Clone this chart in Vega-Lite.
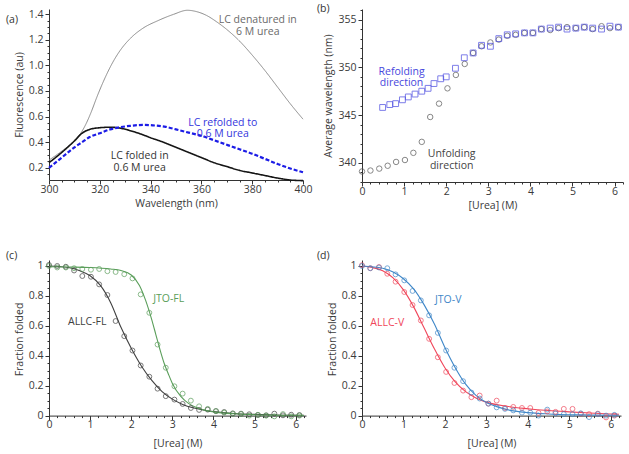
{
  "$schema": "https://vega.github.io/schema/vega-lite/v6.json",
  "padding": {"left": 6, "top": 4, "right": 0, "bottom": 0},
  "columns": 2,
  "spacing": {"row": 78, "column": 56},
  "bounds": "flush",
  "resolve": {"scale": {"color": "independent", "shape": "independent", "size": "independent", "strokeWidth": "independent", "strokeDash": "independent"}},
  "config": {
    "font": "Open Sans",
    "view": {"stroke": null},
    "axis": {"grid": false, "domainColor": "#333333", "tickColor": "#333333", "labelColor": "#3a3a3a", "titleColor": "#3a3a3a", "labelFontSize": 10.5, "titleFontSize": 10.5, "titleFontWeight": "normal", "labelPadding": 2, "titlePadding": 4, "labelFont": "Open Sans", "titleFont": "Open Sans", "labelOverlap": false, "labelFlush": false},
    "axisX": {"labelPadding": 0},
    "title": {"fontSize": 10.5, "fontWeight": "normal", "color": "#333333", "anchor": "start", "font": "Open Sans"},
    "text": {"font": "Open Sans", "fontSize": 10.5, "lineBreak": "\n", "lineHeight": 11.5}
  },
  "datasets": {
    "spec": [
      {"wl": 300, "v": 0.26, "s": "den"}, {"wl": 305, "v": 0.33, "s": "den"}, {"wl": 310, "v": 0.41, "s": "den"}, {"wl": 312.5, "v": 0.47, "s": "den"}, {"wl": 314.5, "v": 0.54, "s": "den"}, {"wl": 316.5, "v": 0.63, "s": "den"}, {"wl": 319, "v": 0.76, "s": "den"}, {"wl": 322, "v": 0.9, "s": "den"}, {"wl": 325, "v": 1.02, "s": "den"}, {"wl": 328, "v": 1.116, "s": "den"}, {"wl": 332, "v": 1.21, "s": "den"}, {"wl": 337, "v": 1.29, "s": "den"}, {"wl": 343, "v": 1.35, "s": "den"}, {"wl": 349, "v": 1.398, "s": "den"}, {"wl": 354.5, "v": 1.43, "s": "den"}, {"wl": 358, "v": 1.42, "s": "den"}, {"wl": 362, "v": 1.39, "s": "den"}, {"wl": 366, "v": 1.34, "s": "den"}, {"wl": 370, "v": 1.28, "s": "den"}, {"wl": 375, "v": 1.19, "s": "den"}, {"wl": 380, "v": 1.08, "s": "den"}, {"wl": 385, "v": 0.96, "s": "den"}, {"wl": 390, "v": 0.83, "s": "den"}, {"wl": 395, "v": 0.7, "s": "den"}, {"wl": 400, "v": 0.58, "s": "den"},
      {"wl": 300, "v": 0.24, "s": "fold"}, {"wl": 305, "v": 0.32, "s": "fold"}, {"wl": 310, "v": 0.41, "s": "fold"}, {"wl": 313, "v": 0.47, "s": "fold"}, {"wl": 316, "v": 0.5, "s": "fold"}, {"wl": 320, "v": 0.513, "s": "fold"}, {"wl": 324, "v": 0.517, "s": "fold"}, {"wl": 328, "v": 0.51, "s": "fold"}, {"wl": 332, "v": 0.49, "s": "fold"}, {"wl": 336, "v": 0.465, "s": "fold"}, {"wl": 340, "v": 0.435, "s": "fold"}, {"wl": 345, "v": 0.4, "s": "fold"}, {"wl": 350, "v": 0.36, "s": "fold"}, {"wl": 355, "v": 0.32, "s": "fold"}, {"wl": 360, "v": 0.28, "s": "fold"}, {"wl": 365, "v": 0.24, "s": "fold"}, {"wl": 370, "v": 0.21, "s": "fold"}, {"wl": 375, "v": 0.18, "s": "fold"}, {"wl": 380, "v": 0.16, "s": "fold"}, {"wl": 385, "v": 0.14, "s": "fold"}, {"wl": 390, "v": 0.12, "s": "fold"}, {"wl": 395, "v": 0.105, "s": "fold"}, {"wl": 400, "v": 0.1, "s": "fold"},
      {"wl": 300, "v": 0.2, "s": "ref"}, {"wl": 305, "v": 0.28, "s": "ref"}, {"wl": 310, "v": 0.36, "s": "ref"}, {"wl": 313, "v": 0.4, "s": "ref"}, {"wl": 316, "v": 0.44, "s": "ref"}, {"wl": 320, "v": 0.47, "s": "ref"}, {"wl": 324, "v": 0.5, "s": "ref"}, {"wl": 328, "v": 0.517, "s": "ref"}, {"wl": 332, "v": 0.528, "s": "ref"}, {"wl": 337, "v": 0.535, "s": "ref"}, {"wl": 342, "v": 0.53, "s": "ref"}, {"wl": 346, "v": 0.52, "s": "ref"}, {"wl": 350, "v": 0.5, "s": "ref"}, {"wl": 355, "v": 0.475, "s": "ref"}, {"wl": 360, "v": 0.45, "s": "ref"}, {"wl": 365, "v": 0.415, "s": "ref"}, {"wl": 370, "v": 0.38, "s": "ref"}, {"wl": 375, "v": 0.345, "s": "ref"}, {"wl": 380, "v": 0.31, "s": "ref"}, {"wl": 385, "v": 0.27, "s": "ref"}, {"wl": 390, "v": 0.23, "s": "ref"}, {"wl": 395, "v": 0.195, "s": "ref"}, {"wl": 400, "v": 0.165, "s": "ref"}
    ],
    "specLab": [
      {"wl": 382.2, "v": 1.352, "s": "den", "t": "LC denatured in\n6 M urea"},
      {"wl": 368.4, "v": 0.551, "s": "ref", "t": "LC refolded to\n0.6 M urea"},
      {"wl": 335.7, "v": 0.291, "s": "fold", "t": "LC folded in\n0.6 M urea"}
    ],
    "wave": [
      {"u": 0, "w": 339.1, "s": "Unfolding"}, {"u": 0.2, "w": 339.2, "s": "Unfolding"}, {"u": 0.41, "w": 339.4, "s": "Unfolding"}, {"u": 0.61, "w": 339.7, "s": "Unfolding"}, {"u": 0.81, "w": 340.1, "s": "Unfolding"}, {"u": 1.02, "w": 340.3, "s": "Unfolding"}, {"u": 1.22, "w": 341.05, "s": "Unfolding"}, {"u": 1.42, "w": 342.2, "s": "Unfolding"}, {"u": 1.62, "w": 344.8, "s": "Unfolding"}, {"u": 1.83, "w": 346.2, "s": "Unfolding"}, {"u": 2.03, "w": 347.8, "s": "Unfolding"}, {"u": 2.23, "w": 349.2, "s": "Unfolding"}, {"u": 2.44, "w": 350.35, "s": "Unfolding"}, {"u": 2.64, "w": 351.5, "s": "Unfolding"}, {"u": 2.84, "w": 352.2, "s": "Unfolding"}, {"u": 3.05, "w": 352.6, "s": "Unfolding"}, {"u": 3.25, "w": 352.9, "s": "Unfolding"}, {"u": 3.45, "w": 353.3, "s": "Unfolding"}, {"u": 3.65, "w": 353.4, "s": "Unfolding"}, {"u": 3.86, "w": 353.6, "s": "Unfolding"}, {"u": 4.06, "w": 353.6, "s": "Unfolding"}, {"u": 4.26, "w": 354.0, "s": "Unfolding"}, {"u": 4.47, "w": 353.9, "s": "Unfolding"}, {"u": 4.67, "w": 354.1, "s": "Unfolding"}, {"u": 4.87, "w": 354.2, "s": "Unfolding"}, {"u": 5.08, "w": 354.1, "s": "Unfolding"}, {"u": 5.28, "w": 354.2, "s": "Unfolding"}, {"u": 5.48, "w": 354.0, "s": "Unfolding"}, {"u": 5.69, "w": 354.3, "s": "Unfolding"}, {"u": 5.89, "w": 354.1, "s": "Unfolding"}, {"u": 6.09, "w": 354.2, "s": "Unfolding"},
      {"u": 0.49, "w": 345.8, "s": "Refolding"}, {"u": 0.66, "w": 346.1, "s": "Refolding"}, {"u": 0.8, "w": 346.2, "s": "Refolding"}, {"u": 0.96, "w": 346.6, "s": "Refolding"}, {"u": 1.1, "w": 346.9, "s": "Refolding"}, {"u": 1.26, "w": 347.2, "s": "Refolding"}, {"u": 1.42, "w": 347.5, "s": "Refolding"}, {"u": 1.57, "w": 347.8, "s": "Refolding"}, {"u": 1.71, "w": 348.3, "s": "Refolding"}, {"u": 1.87, "w": 348.8, "s": "Refolding"}, {"u": 2.0, "w": 349.0, "s": "Refolding"}, {"u": 2.22, "w": 349.9, "s": "Refolding"}, {"u": 2.43, "w": 351.0, "s": "Refolding"}, {"u": 2.64, "w": 351.5, "s": "Refolding"}, {"u": 2.84, "w": 352.3, "s": "Refolding"}, {"u": 3.05, "w": 352.2, "s": "Refolding"}, {"u": 3.25, "w": 353.0, "s": "Refolding"}, {"u": 3.45, "w": 353.4, "s": "Refolding"}, {"u": 3.65, "w": 353.5, "s": "Refolding"}, {"u": 3.86, "w": 353.6, "s": "Refolding"}, {"u": 4.06, "w": 353.6, "s": "Refolding"}, {"u": 4.26, "w": 354.0, "s": "Refolding"}, {"u": 4.47, "w": 354.1, "s": "Refolding"}, {"u": 4.67, "w": 354.2, "s": "Refolding"}, {"u": 4.87, "w": 354.0, "s": "Refolding"}, {"u": 5.08, "w": 354.1, "s": "Refolding"}, {"u": 5.28, "w": 354.2, "s": "Refolding"}, {"u": 5.48, "w": 354.1, "s": "Refolding"}, {"u": 5.69, "w": 354.0, "s": "Refolding"}, {"u": 5.89, "w": 354.3, "s": "Refolding"}, {"u": 6.09, "w": 354.2, "s": "Refolding"}
    ],
    "waveLab": [
      {"u": 0.94, "w": 349.54, "s": "Refolding", "t": "Refolding\ndirection"},
      {"u": 2.13, "w": 340.88, "s": "Unfolding", "t": "Unfolding\ndirection"}
    ],
    "cPts": [
      {"u": 0, "f": 1.007, "s": "ALLC-FL"}, {"u": 0.2, "f": 1.0, "s": "ALLC-FL"}, {"u": 0.41, "f": 0.995, "s": "ALLC-FL"}, {"u": 0.61, "f": 0.97, "s": "ALLC-FL"}, {"u": 0.81, "f": 0.933, "s": "ALLC-FL"}, {"u": 1.02, "f": 0.928, "s": "ALLC-FL"}, {"u": 1.22, "f": 0.877, "s": "ALLC-FL"}, {"u": 1.42, "f": 0.806, "s": "ALLC-FL"}, {"u": 1.62, "f": 0.632, "s": "ALLC-FL"}, {"u": 1.83, "f": 0.531, "s": "ALLC-FL"}, {"u": 2.03, "f": 0.435, "s": "ALLC-FL"}, {"u": 2.23, "f": 0.335, "s": "ALLC-FL"}, {"u": 2.44, "f": 0.26, "s": "ALLC-FL"}, {"u": 2.64, "f": 0.18, "s": "ALLC-FL"}, {"u": 2.84, "f": 0.13, "s": "ALLC-FL"}, {"u": 3.05, "f": 0.107, "s": "ALLC-FL"}, {"u": 3.25, "f": 0.078, "s": "ALLC-FL"}, {"u": 3.45, "f": 0.051, "s": "ALLC-FL"}, {"u": 3.65, "f": 0.038, "s": "ALLC-FL"}, {"u": 3.86, "f": 0.04, "s": "ALLC-FL"}, {"u": 4.06, "f": 0.03, "s": "ALLC-FL"}, {"u": 4.26, "f": 0.024, "s": "ALLC-FL"}, {"u": 4.47, "f": 0.015, "s": "ALLC-FL"}, {"u": 4.67, "f": 0.013, "s": "ALLC-FL"}, {"u": 4.87, "f": 0.009, "s": "ALLC-FL"}, {"u": 5.08, "f": 0.004, "s": "ALLC-FL"}, {"u": 5.28, "f": 0.002, "s": "ALLC-FL"}, {"u": 5.48, "f": 0.013, "s": "ALLC-FL"}, {"u": 5.69, "f": 0.002, "s": "ALLC-FL"}, {"u": 5.89, "f": 0.006, "s": "ALLC-FL"}, {"u": 6.09, "f": 0.004, "s": "ALLC-FL"},
      {"u": 0, "f": 1.0, "s": "JTO-FL"}, {"u": 0.2, "f": 0.99, "s": "JTO-FL"}, {"u": 0.41, "f": 0.99, "s": "JTO-FL"}, {"u": 0.61, "f": 0.985, "s": "JTO-FL"}, {"u": 0.81, "f": 0.98, "s": "JTO-FL"}, {"u": 1.02, "f": 0.975, "s": "JTO-FL"}, {"u": 1.22, "f": 0.98, "s": "JTO-FL"}, {"u": 1.42, "f": 0.965, "s": "JTO-FL"}, {"u": 1.62, "f": 0.96, "s": "JTO-FL"}, {"u": 1.83, "f": 0.945, "s": "JTO-FL"}, {"u": 2.03, "f": 0.917, "s": "JTO-FL"}, {"u": 2.23, "f": 0.81, "s": "JTO-FL"}, {"u": 2.44, "f": 0.687, "s": "JTO-FL"}, {"u": 2.64, "f": 0.475, "s": "JTO-FL"}, {"u": 2.84, "f": 0.32, "s": "JTO-FL"}, {"u": 3.05, "f": 0.196, "s": "JTO-FL"}, {"u": 3.25, "f": 0.147, "s": "JTO-FL"}, {"u": 3.45, "f": 0.1, "s": "JTO-FL"}, {"u": 3.65, "f": 0.062, "s": "JTO-FL"}, {"u": 3.86, "f": 0.045, "s": "JTO-FL"}, {"u": 4.06, "f": 0.03, "s": "JTO-FL"}, {"u": 4.26, "f": 0.02, "s": "JTO-FL"}, {"u": 4.47, "f": 0.012, "s": "JTO-FL"}, {"u": 4.67, "f": 0.01, "s": "JTO-FL"}, {"u": 4.87, "f": 0.0, "s": "JTO-FL"}, {"u": 5.08, "f": 0.005, "s": "JTO-FL"}, {"u": 5.28, "f": 0.0, "s": "JTO-FL"}, {"u": 5.48, "f": -0.005, "s": "JTO-FL"}, {"u": 5.69, "f": 0.01, "s": "JTO-FL"}, {"u": 5.89, "f": -0.005, "s": "JTO-FL"}, {"u": 6.09, "f": 0.0, "s": "JTO-FL"}
    ],
    "cFit": [
      {"u": 0, "f": 1.0, "s": "ALLC-FL"}, {"u": 0.25, "f": 0.997, "s": "ALLC-FL"}, {"u": 0.5, "f": 0.988, "s": "ALLC-FL"}, {"u": 0.75, "f": 0.968, "s": "ALLC-FL"}, {"u": 1.0, "f": 0.935, "s": "ALLC-FL"}, {"u": 1.25, "f": 0.87, "s": "ALLC-FL"}, {"u": 1.5, "f": 0.755, "s": "ALLC-FL"}, {"u": 1.75, "f": 0.59, "s": "ALLC-FL"}, {"u": 2.0, "f": 0.45, "s": "ALLC-FL"}, {"u": 2.25, "f": 0.33, "s": "ALLC-FL"}, {"u": 2.5, "f": 0.235, "s": "ALLC-FL"}, {"u": 2.75, "f": 0.16, "s": "ALLC-FL"}, {"u": 3.0, "f": 0.11, "s": "ALLC-FL"}, {"u": 3.25, "f": 0.075, "s": "ALLC-FL"}, {"u": 3.5, "f": 0.052, "s": "ALLC-FL"}, {"u": 3.75, "f": 0.037, "s": "ALLC-FL"}, {"u": 4.0, "f": 0.027, "s": "ALLC-FL"}, {"u": 4.5, "f": 0.014, "s": "ALLC-FL"}, {"u": 5.0, "f": 0.008, "s": "ALLC-FL"}, {"u": 5.5, "f": 0.004, "s": "ALLC-FL"}, {"u": 6.0, "f": 0.002, "s": "ALLC-FL"}, {"u": 6.2, "f": 0.002, "s": "ALLC-FL"},
      {"u": 0, "f": 0.995, "s": "JTO-FL"}, {"u": 0.5, "f": 0.993, "s": "JTO-FL"}, {"u": 1.0, "f": 0.99, "s": "JTO-FL"}, {"u": 1.5, "f": 0.98, "s": "JTO-FL"}, {"u": 1.75, "f": 0.97, "s": "JTO-FL"}, {"u": 2.0, "f": 0.94, "s": "JTO-FL"}, {"u": 2.2, "f": 0.87, "s": "JTO-FL"}, {"u": 2.35, "f": 0.77, "s": "JTO-FL"}, {"u": 2.5, "f": 0.64, "s": "JTO-FL"}, {"u": 2.6, "f": 0.54, "s": "JTO-FL"}, {"u": 2.7, "f": 0.44, "s": "JTO-FL"}, {"u": 2.8, "f": 0.35, "s": "JTO-FL"}, {"u": 2.9, "f": 0.28, "s": "JTO-FL"}, {"u": 3.0, "f": 0.215, "s": "JTO-FL"}, {"u": 3.2, "f": 0.13, "s": "JTO-FL"}, {"u": 3.4, "f": 0.08, "s": "JTO-FL"}, {"u": 3.6, "f": 0.052, "s": "JTO-FL"}, {"u": 3.8, "f": 0.035, "s": "JTO-FL"}, {"u": 4.0, "f": 0.025, "s": "JTO-FL"}, {"u": 4.5, "f": 0.012, "s": "JTO-FL"}, {"u": 5.0, "f": 0.006, "s": "JTO-FL"}, {"u": 5.5, "f": 0.003, "s": "JTO-FL"}, {"u": 6.0, "f": 0.002, "s": "JTO-FL"}, {"u": 6.2, "f": 0.001, "s": "JTO-FL"}
    ],
    "cLab": [
      {"u": 2.91, "f": 0.777, "s": "JTO-FL", "t": "JTO-FL"},
      {"u": 0.93, "f": 0.627, "s": "ALLC-FL", "t": "ALLC-FL"}
    ],
    "dPts": [
      {"u": 0, "f": 1.005, "s": "ALLC-V"}, {"u": 0.2, "f": 0.985, "s": "ALLC-V"}, {"u": 0.41, "f": 0.993, "s": "ALLC-V"}, {"u": 0.61, "f": 0.948, "s": "ALLC-V"}, {"u": 0.81, "f": 0.895, "s": "ALLC-V"}, {"u": 1.02, "f": 0.826, "s": "ALLC-V"}, {"u": 1.22, "f": 0.739, "s": "ALLC-V"}, {"u": 1.42, "f": 0.636, "s": "ALLC-V"}, {"u": 1.62, "f": 0.513, "s": "ALLC-V"}, {"u": 1.83, "f": 0.39, "s": "ALLC-V"}, {"u": 2.03, "f": 0.292, "s": "ALLC-V"}, {"u": 2.23, "f": 0.218, "s": "ALLC-V"}, {"u": 2.44, "f": 0.167, "s": "ALLC-V"}, {"u": 2.64, "f": 0.123, "s": "ALLC-V"}, {"u": 2.84, "f": 0.134, "s": "ALLC-V"}, {"u": 3.05, "f": 0.08, "s": "ALLC-V"}, {"u": 3.25, "f": 0.1, "s": "ALLC-V"}, {"u": 3.45, "f": 0.051, "s": "ALLC-V"}, {"u": 3.65, "f": 0.058, "s": "ALLC-V"}, {"u": 3.86, "f": 0.051, "s": "ALLC-V"}, {"u": 4.06, "f": 0.051, "s": "ALLC-V"}, {"u": 4.26, "f": 0.018, "s": "ALLC-V"}, {"u": 4.47, "f": 0.028, "s": "ALLC-V"}, {"u": 4.67, "f": 0.025, "s": "ALLC-V"}, {"u": 4.87, "f": 0.045, "s": "ALLC-V"}, {"u": 5.08, "f": 0.045, "s": "ALLC-V"}, {"u": 5.28, "f": 0.013, "s": "ALLC-V"}, {"u": 5.48, "f": 0.01, "s": "ALLC-V"}, {"u": 5.69, "f": 0.013, "s": "ALLC-V"}, {"u": 5.89, "f": -0.012, "s": "ALLC-V"}, {"u": 6.09, "f": 0.0, "s": "ALLC-V"},
      {"u": 0, "f": 1.0, "s": "JTO-V"}, {"u": 0.2, "f": 0.985, "s": "JTO-V"}, {"u": 0.41, "f": 0.99, "s": "JTO-V"}, {"u": 0.61, "f": 0.985, "s": "JTO-V"}, {"u": 0.81, "f": 0.944, "s": "JTO-V"}, {"u": 1.02, "f": 0.904, "s": "JTO-V"}, {"u": 1.22, "f": 0.833, "s": "JTO-V"}, {"u": 1.42, "f": 0.77, "s": "JTO-V"}, {"u": 1.62, "f": 0.67, "s": "JTO-V"}, {"u": 1.83, "f": 0.553, "s": "JTO-V"}, {"u": 2.03, "f": 0.435, "s": "JTO-V"}, {"u": 2.23, "f": 0.32, "s": "JTO-V"}, {"u": 2.44, "f": 0.23, "s": "JTO-V"}, {"u": 2.64, "f": 0.154, "s": "JTO-V"}, {"u": 2.84, "f": 0.114, "s": "JTO-V"}, {"u": 3.05, "f": 0.08, "s": "JTO-V"}, {"u": 3.25, "f": 0.055, "s": "JTO-V"}, {"u": 3.45, "f": 0.045, "s": "JTO-V"}, {"u": 3.65, "f": 0.035, "s": "JTO-V"}, {"u": 3.86, "f": 0.02, "s": "JTO-V"}, {"u": 4.06, "f": 0.02, "s": "JTO-V"}, {"u": 4.26, "f": 0.0, "s": "JTO-V"}, {"u": 4.47, "f": 0.04, "s": "JTO-V"}, {"u": 4.67, "f": 0.015, "s": "JTO-V"}, {"u": 4.87, "f": 0.01, "s": "JTO-V"}, {"u": 5.08, "f": 0.01, "s": "JTO-V"}, {"u": 5.28, "f": 0.015, "s": "JTO-V"}, {"u": 5.48, "f": -0.01, "s": "JTO-V"}, {"u": 5.69, "f": 0.01, "s": "JTO-V"}, {"u": 5.89, "f": 0.0, "s": "JTO-V"}, {"u": 6.09, "f": 0.005, "s": "JTO-V"}
    ],
    "dFit": [
      {"u": 0, "f": 1.0, "s": "ALLC-V"}, {"u": 0.25, "f": 0.99, "s": "ALLC-V"}, {"u": 0.5, "f": 0.968, "s": "ALLC-V"}, {"u": 0.75, "f": 0.92, "s": "ALLC-V"}, {"u": 1.0, "f": 0.84, "s": "ALLC-V"}, {"u": 1.25, "f": 0.725, "s": "ALLC-V"}, {"u": 1.5, "f": 0.585, "s": "ALLC-V"}, {"u": 1.75, "f": 0.445, "s": "ALLC-V"}, {"u": 2.0, "f": 0.32, "s": "ALLC-V"}, {"u": 2.25, "f": 0.225, "s": "ALLC-V"}, {"u": 2.5, "f": 0.16, "s": "ALLC-V"}, {"u": 2.75, "f": 0.118, "s": "ALLC-V"}, {"u": 3.0, "f": 0.09, "s": "ALLC-V"}, {"u": 3.5, "f": 0.062, "s": "ALLC-V"}, {"u": 4.0, "f": 0.046, "s": "ALLC-V"}, {"u": 4.5, "f": 0.034, "s": "ALLC-V"}, {"u": 5.0, "f": 0.025, "s": "ALLC-V"}, {"u": 5.5, "f": 0.017, "s": "ALLC-V"}, {"u": 6.0, "f": 0.011, "s": "ALLC-V"}, {"u": 6.2, "f": 0.009, "s": "ALLC-V"},
      {"u": 0, "f": 1.0, "s": "JTO-V"}, {"u": 0.5, "f": 0.985, "s": "JTO-V"}, {"u": 0.75, "f": 0.96, "s": "JTO-V"}, {"u": 1.0, "f": 0.915, "s": "JTO-V"}, {"u": 1.25, "f": 0.845, "s": "JTO-V"}, {"u": 1.5, "f": 0.74, "s": "JTO-V"}, {"u": 1.75, "f": 0.61, "s": "JTO-V"}, {"u": 2.0, "f": 0.455, "s": "JTO-V"}, {"u": 2.25, "f": 0.32, "s": "JTO-V"}, {"u": 2.5, "f": 0.21, "s": "JTO-V"}, {"u": 2.75, "f": 0.135, "s": "JTO-V"}, {"u": 3.0, "f": 0.088, "s": "JTO-V"}, {"u": 3.25, "f": 0.06, "s": "JTO-V"}, {"u": 3.5, "f": 0.04, "s": "JTO-V"}, {"u": 4.0, "f": 0.02, "s": "JTO-V"}, {"u": 4.5, "f": 0.011, "s": "JTO-V"}, {"u": 5.0, "f": 0.006, "s": "JTO-V"}, {"u": 5.5, "f": 0.004, "s": "JTO-V"}, {"u": 6.0, "f": 0.002, "s": "JTO-V"}, {"u": 6.2, "f": 0.002, "s": "JTO-V"}
    ],
    "dLab": [
      {"u": 2.08, "f": 0.772, "s": "JTO-V", "t": "JTO-V"},
      {"u": 0.61, "f": 0.62, "s": "ALLC-V", "t": "ALLC-V"}
    ]
  },
  "concat": [
    {
      "width": 254, "height": 171,
      "title": {"text": "(a)", "frame": "group", "dx": -43, "offset": -17},
      "encoding": {
        "x": {"field": "wl", "type": "quantitative", "scale": {"domain": [300, 400], "nice": false},
          "axis": {"values": [300, 305, 310, 315, 320, 325, 330, 335, 340, 345, 350, 355, 360, 365, 370, 375, 380, 385, 390, 395, 400], "labelExpr": "datum.value % 20 === 0 ? format(datum.value, 'd') : ''", "tickSize": {"condition": {"test": "datum.value % 20 === 0", "value": 4}, "value": 2}, "title": "Wavelength (nm)"}},
        "y": {"field": "v", "type": "quantitative", "scale": {"domain": [0.105, 1.44], "nice": false, "zero": false},
          "axis": {"values": [0.15, 0.2, 0.25, 0.3, 0.35, 0.4, 0.45, 0.5, 0.55, 0.6, 0.65, 0.7, 0.75, 0.8, 0.85, 0.9, 0.95, 1.0, 1.05, 1.1, 1.15, 1.2, 1.25, 1.3, 1.35, 1.4], "labelExpr": "abs(datum.value * 5 - round(datum.value * 5)) < 0.001 ? format(datum.value, '.1f') : ''", "tickSize": {"condition": {"test": "abs(datum.value * 5 - round(datum.value * 5)) < 0.001", "value": 4}, "value": 2}, "title": "Fluorescence (au)"}}
      },
      "layer": [
        {
          "data": {"name": "spec"},
          "mark": {"type": "line", "interpolate": "monotone"},
          "encoding": {
            "detail": {"field": "s"},
            "color": {"field": "s", "type": "nominal", "scale": {"domain": ["den", "fold", "ref"], "range": ["#8a8a8a", "#151515", "#1c1ce6"]}, "legend": null},
            "strokeWidth": {"field": "s", "type": "nominal", "scale": {"domain": ["den", "fold", "ref"], "range": [1, 2.2, 1.6]}, "legend": null},
            "strokeDash": {"field": "s", "type": "nominal", "scale": {"domain": ["den", "fold", "ref"], "range": [[1, 0], [1, 0], [4, 2]]}, "legend": null}
          }
        },
        {
          "data": {"name": "specLab"},
          "mark": {"type": "text", "align": "center", "baseline": "middle"},
          "encoding": {
            "text": {"field": "t"},
            "color": {"field": "s", "type": "nominal", "scale": {"domain": ["den", "fold", "ref"], "range": ["#6a6a6a", "#333333", "#3535dd"]}, "legend": null}
          }
        }
      ],
      "resolve": {"scale": {"color": "independent"}}
    },
    {
      "width": 261, "height": 173,
      "title": {"text": "(b)", "frame": "group", "dx": -45, "offset": -10},
      "encoding": {
        "x": {"field": "u", "type": "quantitative", "scale": {"domain": [0, 6.2], "nice": false},
          "axis": {"values": [0, 0.2, 0.4, 0.6, 0.8, 1, 1.2, 1.4, 1.6, 1.8, 2, 2.2, 2.4, 2.6, 2.8, 3, 3.2, 3.4, 3.6, 3.8, 4, 4.2, 4.4, 4.6, 4.8, 5, 5.2, 5.4, 5.6, 5.8, 6, 6.2], "labelExpr": "abs(datum.value - round(datum.value)) < 0.001 ? format(round(datum.value), 'd') : ''", "tickSize": {"condition": {"test": "abs(datum.value - round(datum.value)) < 0.001", "value": 4}, "value": 2}, "title": "[Urea] (M)"}},
        "y": {"field": "w", "type": "quantitative", "scale": {"domain": [338, 356.1], "nice": false, "zero": false},
          "axis": {"values": [338, 339, 340, 341, 342, 343, 344, 345, 346, 347, 348, 349, 350, 351, 352, 353, 354, 355, 356], "labelExpr": "datum.value % 5 === 0 ? format(datum.value, 'd') : ''", "tickSize": {"condition": {"test": "datum.value % 5 === 0", "value": 4}, "value": 2}, "title": "Average wavelength (nm)"}}
      },
      "layer": [
        {
          "data": {"name": "wave"},
          "mark": {"type": "point", "filled": false, "strokeWidth": 1},
          "encoding": {
            "shape": {"field": "s", "type": "nominal", "scale": {"domain": ["Unfolding", "Refolding"], "range": ["circle", "square"]}, "legend": null},
            "size": {"field": "s", "type": "nominal", "scale": {"domain": ["Unfolding", "Refolding"], "range": [30, 34]}, "legend": null},
            "color": {"field": "s", "type": "nominal", "scale": {"domain": ["Unfolding", "Refolding"], "range": ["#555555", "#4747e0"]}, "legend": null}
          }
        },
        {
          "data": {"name": "waveLab"},
          "mark": {"type": "text", "align": "center", "baseline": "middle"},
          "encoding": {
            "text": {"field": "t"},
            "color": {"field": "s", "type": "nominal", "scale": {"domain": ["Unfolding", "Refolding"], "range": ["#444444", "#4747dd"]}, "legend": null}
          }
        }
      ],
      "resolve": {"scale": {"color": "independent"}}
    },
    {
      "width": 257, "height": 158,
      "title": {"text": "(c)", "frame": "group", "dx": -43, "offset": -1},
      "encoding": {
        "x": {"field": "u", "type": "quantitative", "scale": {"domain": [0, 6.25], "nice": false},
          "axis": {"offset": -2.4, "titlePadding": 8, "values": [0, 0.2, 0.4, 0.6, 0.8, 1, 1.2, 1.4, 1.6, 1.8, 2, 2.2, 2.4, 2.6, 2.8, 3, 3.2, 3.4, 3.6, 3.8, 4, 4.2, 4.4, 4.6, 4.8, 5, 5.2, 5.4, 5.6, 5.8, 6, 6.2], "labelExpr": "abs(datum.value - round(datum.value)) < 0.001 ? format(round(datum.value), 'd') : ''", "tickSize": {"condition": {"test": "abs(datum.value - round(datum.value)) < 0.001", "value": 4}, "value": 2}, "title": "[Urea] (M)"}},
        "y": {"field": "f", "type": "quantitative", "scale": {"domain": [-0.016, 1.04], "nice": false, "zero": false},
          "axis": {"values": [0, 0.05, 0.1, 0.15, 0.2, 0.25, 0.3, 0.35, 0.4, 0.45, 0.5, 0.55, 0.6, 0.65, 0.7, 0.75, 0.8, 0.85, 0.9, 0.95, 1.0], "labelExpr": "abs(datum.value * 5 - round(datum.value * 5)) < 0.001 ? format(datum.value, '~g') : ''", "tickSize": {"condition": {"test": "abs(datum.value * 5 - round(datum.value * 5)) < 0.001", "value": 4}, "value": 2}, "title": "Fraction folded"}},
        "color": {"field": "s", "type": "nominal", "scale": {"domain": ["ALLC-FL", "JTO-FL"], "range": ["#404040", "#5a9e5a"]}, "legend": null}
      },
      "layer": [
        {"data": {"name": "cFit"}, "mark": {"type": "line", "interpolate": "monotone", "strokeWidth": 1.1}},
        {"data": {"name": "cPts"}, "mark": {"type": "point", "filled": false, "size": 24, "strokeWidth": 1}},
        {"data": {"name": "cLab"}, "mark": {"type": "text", "align": "center", "baseline": "middle"}, "encoding": {"text": {"field": "t"}}}
      ]
    },
    {
      "width": 259, "height": 158,
      "title": {"text": "(d)", "frame": "group", "dx": -45, "offset": -1},
      "encoding": {
        "x": {"field": "u", "type": "quantitative", "scale": {"domain": [0, 6.25], "nice": false},
          "axis": {"offset": -2.4, "titlePadding": 8, "values": [0, 0.2, 0.4, 0.6, 0.8, 1, 1.2, 1.4, 1.6, 1.8, 2, 2.2, 2.4, 2.6, 2.8, 3, 3.2, 3.4, 3.6, 3.8, 4, 4.2, 4.4, 4.6, 4.8, 5, 5.2, 5.4, 5.6, 5.8, 6, 6.2], "labelExpr": "abs(datum.value - round(datum.value)) < 0.001 ? format(round(datum.value), 'd') : ''", "tickSize": {"condition": {"test": "abs(datum.value - round(datum.value)) < 0.001", "value": 4}, "value": 2}, "title": "[Urea] (M)"}},
        "y": {"field": "f", "type": "quantitative", "scale": {"domain": [-0.016, 1.04], "nice": false, "zero": false},
          "axis": {"values": [0, 0.05, 0.1, 0.15, 0.2, 0.25, 0.3, 0.35, 0.4, 0.45, 0.5, 0.55, 0.6, 0.65, 0.7, 0.75, 0.8, 0.85, 0.9, 0.95, 1.0], "labelExpr": "abs(datum.value * 5 - round(datum.value * 5)) < 0.001 ? format(datum.value, '~g') : ''", "tickSize": {"condition": {"test": "abs(datum.value * 5 - round(datum.value * 5)) < 0.001", "value": 4}, "value": 2}, "title": "Fraction folded"}},
        "color": {"field": "s", "type": "nominal", "scale": {"domain": ["ALLC-V", "JTO-V"], "range": ["#f0465a", "#3f87c8"]}, "legend": null}
      },
      "layer": [
        {"data": {"name": "dFit"}, "mark": {"type": "line", "interpolate": "monotone", "strokeWidth": 1.1}},
        {"data": {"name": "dPts"}, "mark": {"type": "point", "filled": false, "size": 24, "strokeWidth": 1}},
        {"data": {"name": "dLab"}, "mark": {"type": "text", "align": "center", "baseline": "middle"}, "encoding": {"text": {"field": "t"}}}
      ]
    }
  ]
}
